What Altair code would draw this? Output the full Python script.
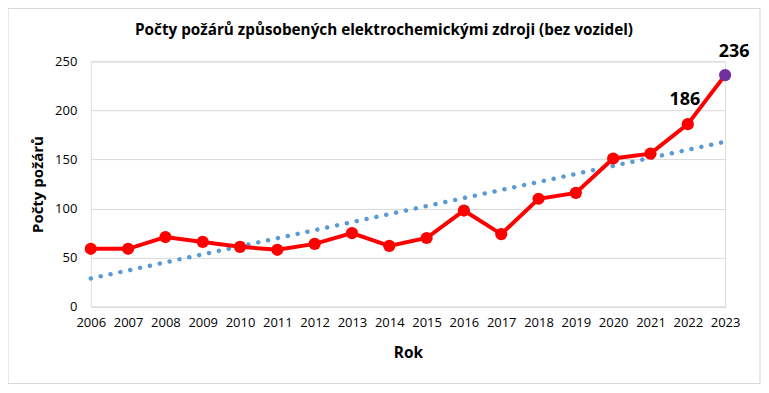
import altair as alt
import pandas as pd

years = list(range(2006, 2024))
counts = [59, 59, 71, 66, 61, 58, 64, 75, 62, 70, 98, 74, 110, 116, 151, 156, 186, 236]
point_colors = ["#FF0000"] * 17 + ["#7030A0"]
title_text = "Počty požárů způsobených elektrochemickými zdroji (bez vozidel)"

df = pd.DataFrame({"Rok": years, "Pocet": counts, "barva": point_colors})

FONT = "Open Sans"
W, H = 636, 246

x = alt.X("Rok:Q", scale=alt.Scale(domain=[2006, 2023], nice=False, zero=False),
          axis=alt.Axis(title="Rok", values=years, format="d", grid=False, ticks=False,
                        tickSize=0, labelPadding=10, labelFontSize=13, labelFont=FONT,
                        labelColor="#000000", titleFont=FONT, titleFontSize=15.5,
                        titleFontWeight="bold", titleColor="#000000", titlePadding=16,
                        domainColor="#D9D9D9", labelFlush=False))
y = alt.Y("Pocet:Q", scale=alt.Scale(domain=[0, 250], nice=False),
          axis=alt.Axis(title="Počty požárů", values=[0, 50, 100, 150, 200, 250],
                        grid=True, gridColor="#D9D9D9", domain=False, ticks=False,
                        tickSize=0, labelPadding=14, labelFontSize=13, labelFont=FONT,
                        labelColor="#000000", titleFont=FONT, titleFontSize=15,
                        titleFontWeight="bold", titleColor="#000000", titlePadding=9))

base = alt.Chart(df)
one = pd.DataFrame({"t": [title_text]})

border = alt.Chart(one).mark_rect(
    fill=None, stroke="#D9D9D9", strokeWidth=1.2
).encode(x=alt.value(-83), x2=alt.value(671), y=alt.value(-53), y2=alt.value(323))

title = alt.Chart(one).mark_text(
    font=FONT, fontSize=15.3, fontWeight="bold", color="#000000",
    align="center", baseline="middle"
).encode(x=alt.value(294), y=alt.value(-31), text="t:N")

trend = base.transform_regression("Rok", "Pocet", extent=[2006, 2023]).mark_line(
    color="#5B9BD5", strokeWidth=4.5, strokeDash=[0.1, 10], strokeCap="round"
).encode(x=x, y=y)

line = base.mark_line(color="#FF0000", strokeWidth=4).encode(x=x, y=y)

pts = base.mark_circle(size=150, opacity=1).encode(
    x=x, y=y, color=alt.Color("barva:N", scale=None)
)

lab186 = base.transform_filter(alt.datum.Rok == 2022).mark_text(
    font=FONT, fontSize=18, fontWeight="bold", color="#000000", dx=-3, dy=-24
).encode(x=x, y=y, text=alt.Text("Pocet:Q"))

lab236 = base.transform_filter(alt.datum.Rok == 2023).mark_text(
    font=FONT, fontSize=18, fontWeight="bold", color="#000000", dx=9, dy=-23
).encode(x=x, y=y, text=alt.Text("Pocet:Q"))

chart = alt.layer(border, title, trend, line, pts, lab186, lab236).properties(
    width=W, height=H,
    autosize=alt.AutoSizeParams(type="none"),
    padding={"left": 83, "top": 53, "right": 36, "bottom": 78},
).configure_view(stroke=None).configure(background="#FFFFFF")

chart.save("out.html", embed_options={"renderer": "svg", "actions": False})
